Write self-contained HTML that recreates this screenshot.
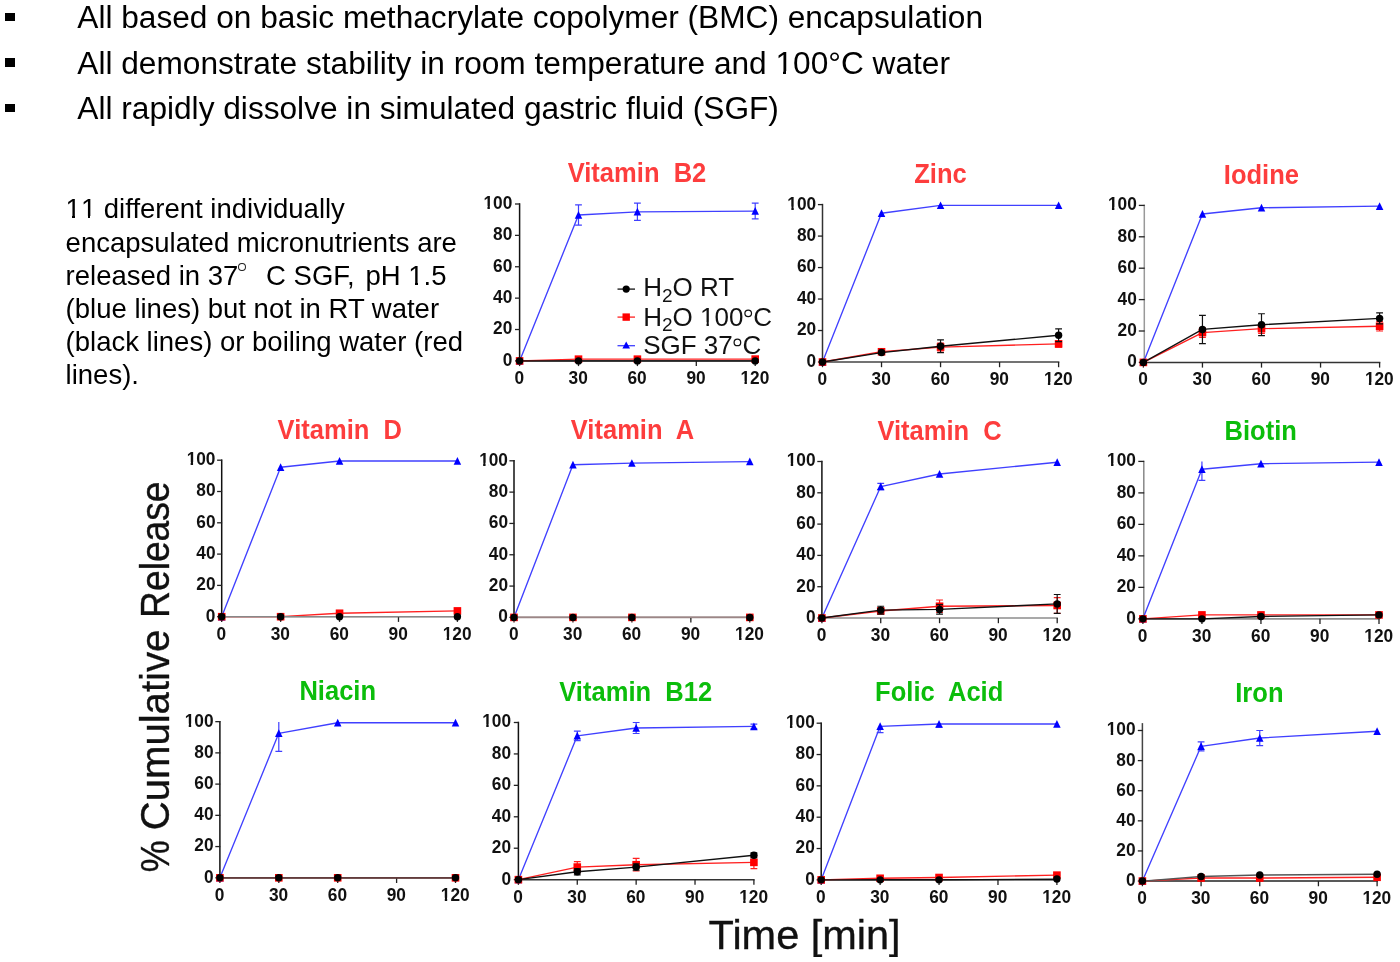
<!DOCTYPE html>
<html><head><meta charset="utf-8"><title>Micronutrient release</title>
<style>
html,body{margin:0;padding:0;background:#fff;}
body{width:1400px;height:962px;overflow:hidden;position:relative;font-family:"Liberation Sans",sans-serif;color:#000;}
.bl{position:absolute;left:77.3px;font-size:31.65px;line-height:36px;white-space:pre;}
.bu{position:absolute;left:5.4px;width:9.2px;height:8.8px;background:#000;}
.para{position:absolute;left:65.6px;top:192.45px;font-size:27.5px;line-height:33.1px;white-space:pre;}
.o1{position:relative;}
.o1::before,.o1::after{content:"";position:absolute;bottom:0.155em;height:0.135em;background:#fff;}
.o1::before{left:0.05em;width:0.2em;}
.o1::after{left:0.3415em;width:0.19em;}
.dg{display:inline-block;width:6.2px;height:6.5px;border:1.05px solid #222;border-radius:50%;vertical-align:13.4px;margin:0 20.3px 0 -0.8px;line-height:0;}
svg{position:absolute;left:0;top:0;filter:blur(0.45px);}
#txt{position:absolute;left:0;top:0;width:1400px;height:420px;filter:blur(0.3px);}
#wrap{position:absolute;left:0;top:0;width:1400px;height:962px;will-change:transform;}
.tk{font:bold 17.3px "Liberation Sans",sans-serif;fill:#111;}
.tt{font:bold 25.55px "Liberation Sans",sans-serif;}
.lg{font:26px "Liberation Sans",sans-serif;fill:#111;}
.sub{font-size:19px;}
.deg{font-size:13px;}
.ax{font:40px "Liberation Sans",sans-serif;fill:#111;stroke:#111;stroke-width:0.35px;}
</style></head><body><div id="wrap"><div id="txt">
<div class="bu" style="top:12.6px"></div><div class="bl" style="top:-1.1px">All based on basic methacrylate copolymer (BMC) encapsulation</div>
<div class="bu" style="top:58.1px"></div><div class="bl" style="top:44.5px">All demonstrate stability in room temperature and <span class="o1">1</span>00°C water</div>
<div class="bu" style="top:103.5px"></div><div class="bl" style="top:89.9px">All rapidly dissolve in simulated gastric fluid (SGF)</div>
<div class="para"><span class="o1">1</span><span class="o1">1</span> different individually
encapsulated micronutrients are
released in 37<span class="dg"></span>C SGF,<span style="margin-left:3.2px"></span> pH <span class="o1">1</span>.5
(blue lines) but not in RT water
(black lines) or boiling water (red
lines).</div>
</div>
<svg width="1400" height="962" viewBox="0 0 1400 962">
<path d="M519.60 203.25V360.90" fill="none" stroke="#111" stroke-width="1.5"/>
<path d="M518.85 360.90H755.95" fill="none" stroke="#333" stroke-width="1.5"/>
<path d="M515.00 360.90H520.00" stroke="#222" stroke-width="1.3"/>
<g transform="translate(512.30 365.80) scale(1 1.07)"><text text-anchor="end" class="tk">0</text></g>
<path d="M515.00 329.52H520.00" stroke="#222" stroke-width="1.3"/>
<g transform="translate(512.30 334.42) scale(1 1.07)"><text text-anchor="end" class="tk">20</text></g>
<path d="M515.00 298.14H520.00" stroke="#222" stroke-width="1.3"/>
<g transform="translate(512.30 303.04) scale(1 1.07)"><text text-anchor="end" class="tk">40</text></g>
<path d="M515.00 266.76H520.00" stroke="#222" stroke-width="1.3"/>
<g transform="translate(512.30 271.66) scale(1 1.07)"><text text-anchor="end" class="tk">60</text></g>
<path d="M515.00 235.38H520.00" stroke="#222" stroke-width="1.3"/>
<g transform="translate(512.30 240.28) scale(1 1.07)"><text text-anchor="end" class="tk">80</text></g>
<path d="M515.00 204.00H520.00" stroke="#222" stroke-width="1.3"/>
<g transform="translate(512.30 208.90) scale(1 1.07)"><text text-anchor="end" class="tk">100</text><rect x="-29.39" y="-2.80" width="4.54" height="3.84" fill="#fff"/><rect x="-22.44" y="-2.80" width="3.26" height="3.84" fill="#fff"/></g>
<path d="M519.60 360.90V366.10" stroke="#222" stroke-width="1.3"/>
<g transform="translate(519.30 383.80) scale(1 1.07)"><text text-anchor="middle" class="tk">0</text></g>
<path d="M578.50 360.90V366.10" stroke="#222" stroke-width="1.3"/>
<g transform="translate(578.20 383.80) scale(1 1.07)"><text text-anchor="middle" class="tk">30</text></g>
<path d="M637.40 360.90V366.10" stroke="#222" stroke-width="1.3"/>
<g transform="translate(637.10 383.80) scale(1 1.07)"><text text-anchor="middle" class="tk">60</text></g>
<path d="M696.30 360.90V366.10" stroke="#222" stroke-width="1.3"/>
<g transform="translate(696.00 383.80) scale(1 1.07)"><text text-anchor="middle" class="tk">90</text></g>
<path d="M755.20 360.90V366.10" stroke="#222" stroke-width="1.3"/>
<g transform="translate(754.90 383.80) scale(1 1.07)"><text text-anchor="middle" class="tk">120</text><rect x="-14.95" y="-2.80" width="4.54" height="3.84" fill="#fff"/><rect x="-8.01" y="-2.80" width="3.26" height="3.84" fill="#fff"/></g>
<text transform="translate(637.00 182.30) scale(1 1.075)" text-anchor="middle" class="tt" fill="#fd3d3d" xml:space="preserve">Vitamin  B2</text>
<polyline points="519.60,360.90 578.50,214.98 637.40,211.84 755.20,211.06" fill="none" stroke="#4040ff" stroke-width="1.35" stroke-linejoin="round"/>
<path d="M578.50 204.78V225.18M575.10 204.78H581.90M575.10 225.18H581.90" stroke="#4040ff" stroke-width="1.2" fill="none"/>
<path d="M637.40 203.22V220.47M634.00 203.22H640.80M634.00 220.47H640.80" stroke="#4040ff" stroke-width="1.2" fill="none"/>
<path d="M755.20 203.22V218.91M751.80 203.22H758.60M751.80 218.91H758.60" stroke="#4040ff" stroke-width="1.2" fill="none"/>
<path d="M519.60 356.90L523.35 364.60H515.85Z" fill="#0000ff"/>
<path d="M578.50 210.98L582.25 218.68H574.75Z" fill="#0000ff"/>
<path d="M637.40 207.84L641.15 215.54H633.65Z" fill="#0000ff"/>
<path d="M755.20 207.06L758.95 214.76H751.45Z" fill="#0000ff"/>
<polyline points="519.60,360.90 578.50,359.17 637.40,359.17 755.20,359.10" fill="none" stroke="#ff2020" stroke-width="1.35" stroke-linejoin="round"/>
<rect x="515.80" y="357.10" width="7.6" height="7.6" fill="#ff0000"/>
<rect x="574.70" y="355.37" width="7.6" height="7.6" fill="#ff0000"/>
<rect x="633.60" y="355.37" width="7.6" height="7.6" fill="#ff0000"/>
<rect x="751.40" y="355.30" width="7.6" height="7.6" fill="#ff0000"/>
<polyline points="519.60,360.90 578.50,360.90 637.40,360.90 755.20,360.90" fill="none" stroke="#111" stroke-width="1.35" stroke-linejoin="round"/>
<circle cx="519.60" cy="360.90" r="3.7" fill="#000"/>
<circle cx="578.50" cy="360.90" r="3.7" fill="#000"/>
<circle cx="637.40" cy="360.90" r="3.7" fill="#000"/>
<circle cx="755.20" cy="360.90" r="3.7" fill="#000"/>
<path d="M822.50 203.85V362.00" fill="none" stroke="#333" stroke-width="1.5"/>
<path d="M821.75 362.00H1059.35" fill="none" stroke="#444" stroke-width="1.5"/>
<path d="M817.90 362.00H822.90" stroke="#222" stroke-width="1.3"/>
<g transform="translate(816.20 366.90) scale(1 1.07)"><text text-anchor="end" class="tk">0</text></g>
<path d="M817.90 330.52H822.90" stroke="#222" stroke-width="1.3"/>
<g transform="translate(816.20 335.42) scale(1 1.07)"><text text-anchor="end" class="tk">20</text></g>
<path d="M817.90 299.04H822.90" stroke="#222" stroke-width="1.3"/>
<g transform="translate(816.20 303.94) scale(1 1.07)"><text text-anchor="end" class="tk">40</text></g>
<path d="M817.90 267.56H822.90" stroke="#222" stroke-width="1.3"/>
<g transform="translate(816.20 272.46) scale(1 1.07)"><text text-anchor="end" class="tk">60</text></g>
<path d="M817.90 236.08H822.90" stroke="#222" stroke-width="1.3"/>
<g transform="translate(816.20 240.98) scale(1 1.07)"><text text-anchor="end" class="tk">80</text></g>
<path d="M817.90 204.60H822.90" stroke="#222" stroke-width="1.3"/>
<g transform="translate(816.20 209.50) scale(1 1.07)"><text text-anchor="end" class="tk">100</text><rect x="-29.39" y="-2.80" width="4.54" height="3.84" fill="#fff"/><rect x="-22.44" y="-2.80" width="3.26" height="3.84" fill="#fff"/></g>
<path d="M822.50 362.00V367.20" stroke="#222" stroke-width="1.3"/>
<g transform="translate(822.20 384.90) scale(1 1.07)"><text text-anchor="middle" class="tk">0</text></g>
<path d="M881.52 362.00V367.20" stroke="#222" stroke-width="1.3"/>
<g transform="translate(881.23 384.90) scale(1 1.07)"><text text-anchor="middle" class="tk">30</text></g>
<path d="M940.55 362.00V367.20" stroke="#222" stroke-width="1.3"/>
<g transform="translate(940.25 384.90) scale(1 1.07)"><text text-anchor="middle" class="tk">60</text></g>
<path d="M999.57 362.00V367.20" stroke="#222" stroke-width="1.3"/>
<g transform="translate(999.27 384.90) scale(1 1.07)"><text text-anchor="middle" class="tk">90</text></g>
<path d="M1058.60 362.00V367.20" stroke="#222" stroke-width="1.3"/>
<g transform="translate(1058.30 384.90) scale(1 1.07)"><text text-anchor="middle" class="tk">120</text><rect x="-14.95" y="-2.80" width="4.54" height="3.84" fill="#fff"/><rect x="-8.01" y="-2.80" width="3.26" height="3.84" fill="#fff"/></g>
<text transform="translate(940.50 182.80) scale(1 1.075)" text-anchor="middle" class="tt" fill="#fd3d3d" xml:space="preserve">Zinc</text>
<polyline points="822.50,362.00 881.52,213.26 940.55,205.39 1058.60,205.39" fill="none" stroke="#4040ff" stroke-width="1.35" stroke-linejoin="round"/>
<path d="M822.50 358.00L826.25 365.70H818.75Z" fill="#0000ff"/>
<path d="M881.52 209.26L885.27 216.96H877.77Z" fill="#0000ff"/>
<path d="M940.55 201.39L944.30 209.09H936.80Z" fill="#0000ff"/>
<path d="M1058.60 201.39L1062.35 209.09H1054.85Z" fill="#0000ff"/>
<polyline points="822.50,362.00 881.52,351.77 940.55,347.05 1058.60,343.90" fill="none" stroke="#ff2020" stroke-width="1.35" stroke-linejoin="round"/>
<path d="M940.55 343.11V350.98M937.15 343.11H943.95M937.15 350.98H943.95" stroke="#ff2020" stroke-width="1.2" fill="none"/>
<path d="M1058.60 340.75V347.05M1055.20 340.75H1062.00M1055.20 347.05H1062.00" stroke="#ff2020" stroke-width="1.2" fill="none"/>
<rect x="818.70" y="358.20" width="7.6" height="7.6" fill="#ff0000"/>
<rect x="877.73" y="347.97" width="7.6" height="7.6" fill="#ff0000"/>
<rect x="936.75" y="343.25" width="7.6" height="7.6" fill="#ff0000"/>
<rect x="1054.80" y="340.10" width="7.6" height="7.6" fill="#ff0000"/>
<polyline points="822.50,362.00 881.52,352.56 940.55,346.26 1058.60,335.24" fill="none" stroke="#111" stroke-width="1.35" stroke-linejoin="round"/>
<path d="M940.55 339.96V352.56M937.15 339.96H943.95M937.15 352.56H943.95" stroke="#111" stroke-width="1.2" fill="none"/>
<path d="M1058.60 328.95V341.54M1055.20 328.95H1062.00M1055.20 341.54H1062.00" stroke="#111" stroke-width="1.2" fill="none"/>
<circle cx="822.50" cy="362.00" r="3.7" fill="#000"/>
<circle cx="881.52" cy="352.56" r="3.7" fill="#000"/>
<circle cx="940.55" cy="346.26" r="3.7" fill="#000"/>
<circle cx="1058.60" cy="335.24" r="3.7" fill="#000"/>
<path d="M1144.30 204.65V362.40" fill="none" stroke="#999" stroke-width="1.5"/>
<path d="M1142.65 362.40H1380.35" fill="none" stroke="#333" stroke-width="1.5"/>
<path d="M1138.80 362.40H1144.70" stroke="#222" stroke-width="1.3"/>
<g transform="translate(1136.80 367.30) scale(1 1.07)"><text text-anchor="end" class="tk">0</text></g>
<path d="M1138.80 331.00H1144.70" stroke="#222" stroke-width="1.3"/>
<g transform="translate(1136.80 335.90) scale(1 1.07)"><text text-anchor="end" class="tk">20</text></g>
<path d="M1138.80 299.60H1144.70" stroke="#222" stroke-width="1.3"/>
<g transform="translate(1136.80 304.50) scale(1 1.07)"><text text-anchor="end" class="tk">40</text></g>
<path d="M1138.80 268.20H1144.70" stroke="#222" stroke-width="1.3"/>
<g transform="translate(1136.80 273.10) scale(1 1.07)"><text text-anchor="end" class="tk">60</text></g>
<path d="M1138.80 236.80H1144.70" stroke="#222" stroke-width="1.3"/>
<g transform="translate(1136.80 241.70) scale(1 1.07)"><text text-anchor="end" class="tk">80</text></g>
<path d="M1138.80 205.40H1144.70" stroke="#222" stroke-width="1.3"/>
<g transform="translate(1136.80 210.30) scale(1 1.07)"><text text-anchor="end" class="tk">100</text><rect x="-29.39" y="-2.80" width="4.54" height="3.84" fill="#fff"/><rect x="-22.44" y="-2.80" width="3.26" height="3.84" fill="#fff"/></g>
<path d="M1143.40 362.40V367.60" stroke="#222" stroke-width="1.3"/>
<g transform="translate(1143.10 385.30) scale(1 1.07)"><text text-anchor="middle" class="tk">0</text></g>
<path d="M1202.45 362.40V367.60" stroke="#222" stroke-width="1.3"/>
<g transform="translate(1202.15 385.30) scale(1 1.07)"><text text-anchor="middle" class="tk">30</text></g>
<path d="M1261.50 362.40V367.60" stroke="#222" stroke-width="1.3"/>
<g transform="translate(1261.20 385.30) scale(1 1.07)"><text text-anchor="middle" class="tk">60</text></g>
<path d="M1320.55 362.40V367.60" stroke="#222" stroke-width="1.3"/>
<g transform="translate(1320.25 385.30) scale(1 1.07)"><text text-anchor="middle" class="tk">90</text></g>
<path d="M1379.60 362.40V367.60" stroke="#222" stroke-width="1.3"/>
<g transform="translate(1379.30 385.30) scale(1 1.07)"><text text-anchor="middle" class="tk">120</text><rect x="-14.95" y="-2.80" width="4.54" height="3.84" fill="#fff"/><rect x="-8.01" y="-2.80" width="3.26" height="3.84" fill="#fff"/></g>
<text transform="translate(1261.40 183.60) scale(1 1.075)" text-anchor="middle" class="tt" fill="#fd3d3d" xml:space="preserve">Iodine</text>
<polyline points="1143.40,362.40 1202.45,214.03 1261.50,207.76 1379.60,206.19" fill="none" stroke="#4040ff" stroke-width="1.35" stroke-linejoin="round"/>
<path d="M1143.40 358.40L1147.15 366.10H1139.65Z" fill="#0000ff"/>
<path d="M1202.45 210.03L1206.20 217.73H1198.70Z" fill="#0000ff"/>
<path d="M1261.50 203.76L1265.25 211.46H1257.75Z" fill="#0000ff"/>
<path d="M1379.60 202.19L1383.35 209.88H1375.85Z" fill="#0000ff"/>
<polyline points="1143.40,362.40 1202.45,332.57 1261.50,328.64 1379.60,326.29" fill="none" stroke="#ff2020" stroke-width="1.35" stroke-linejoin="round"/>
<path d="M1202.45 327.86V337.28M1199.05 327.86H1205.85M1199.05 337.28H1205.85" stroke="#ff2020" stroke-width="1.2" fill="none"/>
<path d="M1261.50 323.94V333.35M1258.10 323.94H1264.90M1258.10 333.35H1264.90" stroke="#ff2020" stroke-width="1.2" fill="none"/>
<path d="M1379.60 321.58V331.00M1376.20 321.58H1383.00M1376.20 331.00H1383.00" stroke="#ff2020" stroke-width="1.2" fill="none"/>
<rect x="1139.60" y="358.60" width="7.6" height="7.6" fill="#ff0000"/>
<rect x="1198.65" y="328.77" width="7.6" height="7.6" fill="#ff0000"/>
<rect x="1257.70" y="324.84" width="7.6" height="7.6" fill="#ff0000"/>
<rect x="1375.80" y="322.49" width="7.6" height="7.6" fill="#ff0000"/>
<polyline points="1143.40,362.40 1202.45,329.43 1261.50,324.72 1379.60,318.44" fill="none" stroke="#111" stroke-width="1.35" stroke-linejoin="round"/>
<path d="M1202.45 315.30V343.56M1199.05 315.30H1205.85M1199.05 343.56H1205.85" stroke="#111" stroke-width="1.2" fill="none"/>
<path d="M1261.50 313.73V335.71M1258.10 313.73H1264.90M1258.10 335.71H1264.90" stroke="#111" stroke-width="1.2" fill="none"/>
<path d="M1379.60 312.94V323.94M1376.20 312.94H1383.00M1376.20 323.94H1383.00" stroke="#111" stroke-width="1.2" fill="none"/>
<circle cx="1143.40" cy="362.40" r="3.7" fill="#000"/>
<circle cx="1202.45" cy="329.43" r="3.7" fill="#000"/>
<circle cx="1261.50" cy="324.72" r="3.7" fill="#000"/>
<circle cx="1379.60" cy="318.44" r="3.7" fill="#000"/>
<path d="M221.70 459.45V616.70" fill="none" stroke="#111" stroke-width="1.5"/>
<path d="M220.95 616.70H458.15" fill="none" stroke="#888" stroke-width="1.5"/>
<path d="M217.10 616.70H222.10" stroke="#222" stroke-width="1.3"/>
<g transform="translate(215.50 621.60) scale(1 1.07)"><text text-anchor="end" class="tk">0</text></g>
<path d="M217.10 585.40H222.10" stroke="#222" stroke-width="1.3"/>
<g transform="translate(215.50 590.30) scale(1 1.07)"><text text-anchor="end" class="tk">20</text></g>
<path d="M217.10 554.10H222.10" stroke="#222" stroke-width="1.3"/>
<g transform="translate(215.50 559.00) scale(1 1.07)"><text text-anchor="end" class="tk">40</text></g>
<path d="M217.10 522.80H222.10" stroke="#222" stroke-width="1.3"/>
<g transform="translate(215.50 527.70) scale(1 1.07)"><text text-anchor="end" class="tk">60</text></g>
<path d="M217.10 491.50H222.10" stroke="#222" stroke-width="1.3"/>
<g transform="translate(215.50 496.40) scale(1 1.07)"><text text-anchor="end" class="tk">80</text></g>
<path d="M217.10 460.20H222.10" stroke="#222" stroke-width="1.3"/>
<g transform="translate(215.50 465.10) scale(1 1.07)"><text text-anchor="end" class="tk">100</text><rect x="-29.39" y="-2.80" width="4.54" height="3.84" fill="#fff"/><rect x="-22.44" y="-2.80" width="3.26" height="3.84" fill="#fff"/></g>
<path d="M221.70 616.70V621.90" stroke="#222" stroke-width="1.3"/>
<g transform="translate(221.40 639.60) scale(1 1.07)"><text text-anchor="middle" class="tk">0</text></g>
<path d="M280.62 616.70V621.90" stroke="#222" stroke-width="1.3"/>
<g transform="translate(280.32 639.60) scale(1 1.07)"><text text-anchor="middle" class="tk">30</text></g>
<path d="M339.55 616.70V621.90" stroke="#222" stroke-width="1.3"/>
<g transform="translate(339.25 639.60) scale(1 1.07)"><text text-anchor="middle" class="tk">60</text></g>
<path d="M398.48 616.70V621.90" stroke="#222" stroke-width="1.3"/>
<g transform="translate(398.18 639.60) scale(1 1.07)"><text text-anchor="middle" class="tk">90</text></g>
<path d="M457.40 616.70V621.90" stroke="#222" stroke-width="1.3"/>
<g transform="translate(457.10 639.60) scale(1 1.07)"><text text-anchor="middle" class="tk">120</text><rect x="-14.95" y="-2.80" width="4.54" height="3.84" fill="#fff"/><rect x="-8.01" y="-2.80" width="3.26" height="3.84" fill="#fff"/></g>
<text transform="translate(339.80 439.00) scale(1 1.075)" text-anchor="middle" class="tt" fill="#fd3d3d" xml:space="preserve">Vitamin  D</text>
<polyline points="221.70,616.70 280.62,467.24 339.55,460.98 457.40,460.98" fill="none" stroke="#4040ff" stroke-width="1.35" stroke-linejoin="round"/>
<path d="M221.70 612.70L225.45 620.40H217.95Z" fill="#0000ff"/>
<path d="M280.62 463.24L284.38 470.94H276.88Z" fill="#0000ff"/>
<path d="M339.55 456.98L343.30 464.68H335.80Z" fill="#0000ff"/>
<path d="M457.40 456.98L461.15 464.68H453.65Z" fill="#0000ff"/>
<polyline points="221.70,616.70 280.62,616.70 339.55,613.26 457.40,610.91" fill="none" stroke="#ff2020" stroke-width="1.3" stroke-linejoin="round"/>
<rect x="217.90" y="612.90" width="7.6" height="7.6" fill="#ff0000"/>
<rect x="276.82" y="612.90" width="7.6" height="7.6" fill="#ff0000"/>
<rect x="335.75" y="609.46" width="7.6" height="7.6" fill="#ff0000"/>
<rect x="453.60" y="607.11" width="7.6" height="7.6" fill="#ff0000"/>
<polyline points="221.70,616.70 280.62,616.70 339.55,616.70 457.40,616.70" fill="none" stroke="#888" stroke-width="1.3" stroke-linejoin="round"/>
<circle cx="221.70" cy="616.70" r="3.7" fill="#000"/>
<circle cx="280.62" cy="616.70" r="3.7" fill="#000"/>
<circle cx="339.55" cy="616.70" r="3.7" fill="#000"/>
<circle cx="457.40" cy="616.70" r="3.7" fill="#000"/>
<path d="M514.00 460.05V617.40" fill="none" stroke="#111" stroke-width="1.5"/>
<path d="M513.25 617.40H750.55" fill="none" stroke="#9c8686" stroke-width="1.6"/>
<path d="M509.40 617.40H514.40" stroke="#222" stroke-width="1.3"/>
<g transform="translate(508.00 622.30) scale(1 1.07)"><text text-anchor="end" class="tk">0</text></g>
<path d="M509.40 586.08H514.40" stroke="#222" stroke-width="1.3"/>
<g transform="translate(508.00 590.98) scale(1 1.07)"><text text-anchor="end" class="tk">20</text></g>
<path d="M509.40 554.76H514.40" stroke="#222" stroke-width="1.3"/>
<g transform="translate(508.00 559.66) scale(1 1.07)"><text text-anchor="end" class="tk">40</text></g>
<path d="M509.40 523.44H514.40" stroke="#222" stroke-width="1.3"/>
<g transform="translate(508.00 528.34) scale(1 1.07)"><text text-anchor="end" class="tk">60</text></g>
<path d="M509.40 492.12H514.40" stroke="#222" stroke-width="1.3"/>
<g transform="translate(508.00 497.02) scale(1 1.07)"><text text-anchor="end" class="tk">80</text></g>
<path d="M509.40 460.80H514.40" stroke="#222" stroke-width="1.3"/>
<g transform="translate(508.00 465.70) scale(1 1.07)"><text text-anchor="end" class="tk">100</text><rect x="-29.39" y="-2.80" width="4.54" height="3.84" fill="#fff"/><rect x="-22.44" y="-2.80" width="3.26" height="3.84" fill="#fff"/></g>
<path d="M514.00 617.40V622.60" stroke="#222" stroke-width="1.3"/>
<g transform="translate(513.70 640.30) scale(1 1.07)"><text text-anchor="middle" class="tk">0</text></g>
<path d="M572.95 617.40V622.60" stroke="#222" stroke-width="1.3"/>
<g transform="translate(572.65 640.30) scale(1 1.07)"><text text-anchor="middle" class="tk">30</text></g>
<path d="M631.90 617.40V622.60" stroke="#222" stroke-width="1.3"/>
<g transform="translate(631.60 640.30) scale(1 1.07)"><text text-anchor="middle" class="tk">60</text></g>
<path d="M690.85 617.40V622.60" stroke="#222" stroke-width="1.3"/>
<g transform="translate(690.55 640.30) scale(1 1.07)"><text text-anchor="middle" class="tk">90</text></g>
<path d="M749.80 617.40V622.60" stroke="#222" stroke-width="1.3"/>
<g transform="translate(749.50 640.30) scale(1 1.07)"><text text-anchor="middle" class="tk">120</text><rect x="-14.95" y="-2.80" width="4.54" height="3.84" fill="#fff"/><rect x="-8.01" y="-2.80" width="3.26" height="3.84" fill="#fff"/></g>
<text transform="translate(632.50 439.30) scale(1 1.075)" text-anchor="middle" class="tt" fill="#fd3d3d" xml:space="preserve">Vitamin  A</text>
<polyline points="514.00,617.40 572.95,464.72 631.90,463.15 749.80,461.58" fill="none" stroke="#4040ff" stroke-width="1.35" stroke-linejoin="round"/>
<path d="M514.00 613.40L517.75 621.10H510.25Z" fill="#0000ff"/>
<path d="M572.95 460.72L576.70 468.42H569.20Z" fill="#0000ff"/>
<path d="M631.90 459.15L635.65 466.85H628.15Z" fill="#0000ff"/>
<path d="M749.80 457.58L753.55 465.28H746.05Z" fill="#0000ff"/>
<polyline points="514.00,617.40 572.95,617.40 631.90,617.40 749.80,617.40" fill="none" stroke="#9c8686" stroke-width="1.4" stroke-linejoin="round"/>
<rect x="510.20" y="613.60" width="7.6" height="7.6" fill="#ff0000"/>
<rect x="569.15" y="613.60" width="7.6" height="7.6" fill="#ff0000"/>
<rect x="628.10" y="613.60" width="7.6" height="7.6" fill="#ff0000"/>
<rect x="746.00" y="613.60" width="7.6" height="7.6" fill="#ff0000"/>
<polyline points="514.00,617.40 572.95,617.40 631.90,617.40 749.80,617.40" fill="none" stroke="#9c8686" stroke-width="1.4" stroke-linejoin="round"/>
<circle cx="514.00" cy="617.40" r="3.7" fill="#000"/>
<circle cx="572.95" cy="617.40" r="3.7" fill="#000"/>
<circle cx="631.90" cy="617.40" r="3.7" fill="#000"/>
<circle cx="749.80" cy="617.40" r="3.7" fill="#000"/>
<path d="M821.90 460.75V618.00" fill="none" stroke="#111" stroke-width="1.5"/>
<path d="M821.15 618.00H1057.95" fill="none" stroke="#8c8c8c" stroke-width="1.6"/>
<path d="M817.30 618.00H822.30" stroke="#222" stroke-width="1.3"/>
<g transform="translate(815.60 622.90) scale(1 1.07)"><text text-anchor="end" class="tk">0</text></g>
<path d="M817.30 586.70H822.30" stroke="#222" stroke-width="1.3"/>
<g transform="translate(815.60 591.60) scale(1 1.07)"><text text-anchor="end" class="tk">20</text></g>
<path d="M817.30 555.40H822.30" stroke="#222" stroke-width="1.3"/>
<g transform="translate(815.60 560.30) scale(1 1.07)"><text text-anchor="end" class="tk">40</text></g>
<path d="M817.30 524.10H822.30" stroke="#222" stroke-width="1.3"/>
<g transform="translate(815.60 529.00) scale(1 1.07)"><text text-anchor="end" class="tk">60</text></g>
<path d="M817.30 492.80H822.30" stroke="#222" stroke-width="1.3"/>
<g transform="translate(815.60 497.70) scale(1 1.07)"><text text-anchor="end" class="tk">80</text></g>
<path d="M817.30 461.50H822.30" stroke="#222" stroke-width="1.3"/>
<g transform="translate(815.60 466.40) scale(1 1.07)"><text text-anchor="end" class="tk">100</text><rect x="-29.39" y="-2.80" width="4.54" height="3.84" fill="#fff"/><rect x="-22.44" y="-2.80" width="3.26" height="3.84" fill="#fff"/></g>
<path d="M821.90 618.00V623.20" stroke="#222" stroke-width="1.3"/>
<g transform="translate(821.60 640.90) scale(1 1.07)"><text text-anchor="middle" class="tk">0</text></g>
<path d="M880.73 618.00V623.20" stroke="#222" stroke-width="1.3"/>
<g transform="translate(880.43 640.90) scale(1 1.07)"><text text-anchor="middle" class="tk">30</text></g>
<path d="M939.55 618.00V623.20" stroke="#222" stroke-width="1.3"/>
<g transform="translate(939.25 640.90) scale(1 1.07)"><text text-anchor="middle" class="tk">60</text></g>
<path d="M998.38 618.00V623.20" stroke="#222" stroke-width="1.3"/>
<g transform="translate(998.08 640.90) scale(1 1.07)"><text text-anchor="middle" class="tk">90</text></g>
<path d="M1057.20 618.00V623.20" stroke="#222" stroke-width="1.3"/>
<g transform="translate(1056.90 640.90) scale(1 1.07)"><text text-anchor="middle" class="tk">120</text><rect x="-14.95" y="-2.80" width="4.54" height="3.84" fill="#fff"/><rect x="-8.01" y="-2.80" width="3.26" height="3.84" fill="#fff"/></g>
<text transform="translate(939.60 440.10) scale(1 1.075)" text-anchor="middle" class="tt" fill="#fd3d3d" xml:space="preserve">Vitamin  C</text>
<polyline points="821.90,618.00 880.73,486.54 939.55,474.02 1057.20,462.28" fill="none" stroke="#4040ff" stroke-width="1.35" stroke-linejoin="round"/>
<path d="M880.73 483.41V489.67M877.33 483.41H884.12M877.33 489.67H884.12" stroke="#4040ff" stroke-width="1.2" fill="none"/>
<path d="M821.90 614.00L825.65 621.70H818.15Z" fill="#0000ff"/>
<path d="M880.73 482.54L884.48 490.24H876.98Z" fill="#0000ff"/>
<path d="M939.55 470.02L943.30 477.72H935.80Z" fill="#0000ff"/>
<path d="M1057.20 458.28L1060.95 465.98H1053.45Z" fill="#0000ff"/>
<polyline points="821.90,618.00 880.73,610.96 939.55,606.26 1057.20,605.48" fill="none" stroke="#ff2020" stroke-width="1.35" stroke-linejoin="round"/>
<path d="M939.55 600.00V612.52M936.15 600.00H942.95M936.15 612.52H942.95" stroke="#ff2020" stroke-width="1.2" fill="none"/>
<path d="M1057.20 597.65V613.30M1053.80 597.65H1060.60M1053.80 613.30H1060.60" stroke="#ff2020" stroke-width="1.2" fill="none"/>
<rect x="818.10" y="614.20" width="7.6" height="7.6" fill="#ff0000"/>
<rect x="876.93" y="607.16" width="7.6" height="7.6" fill="#ff0000"/>
<rect x="935.75" y="602.46" width="7.6" height="7.6" fill="#ff0000"/>
<rect x="1053.40" y="601.68" width="7.6" height="7.6" fill="#ff0000"/>
<polyline points="821.90,618.00 880.73,610.17 939.55,609.39 1057.20,603.91" fill="none" stroke="#111" stroke-width="1.35" stroke-linejoin="round"/>
<path d="M880.73 606.26V614.09M877.33 606.26H884.12M877.33 614.09H884.12" stroke="#111" stroke-width="1.2" fill="none"/>
<path d="M939.55 604.70V614.09M936.15 604.70H942.95M936.15 614.09H942.95" stroke="#111" stroke-width="1.2" fill="none"/>
<path d="M1057.20 594.52V613.30M1053.80 594.52H1060.60M1053.80 613.30H1060.60" stroke="#111" stroke-width="1.2" fill="none"/>
<circle cx="821.90" cy="618.00" r="3.7" fill="#000"/>
<circle cx="880.73" cy="610.17" r="3.7" fill="#000"/>
<circle cx="939.55" cy="609.39" r="3.7" fill="#000"/>
<circle cx="1057.20" cy="603.91" r="3.7" fill="#000"/>
<path d="M1143.80 460.65V618.85" fill="none" stroke="#888" stroke-width="1.5"/>
<path d="M1142.15 618.85H1379.75" fill="none" stroke="#909090" stroke-width="1.6"/>
<path d="M1138.30 618.85H1144.20" stroke="#222" stroke-width="1.3"/>
<g transform="translate(1135.90 623.75) scale(1 1.07)"><text text-anchor="end" class="tk">0</text></g>
<path d="M1138.30 587.36H1144.20" stroke="#222" stroke-width="1.3"/>
<g transform="translate(1135.90 592.26) scale(1 1.07)"><text text-anchor="end" class="tk">20</text></g>
<path d="M1138.30 555.87H1144.20" stroke="#222" stroke-width="1.3"/>
<g transform="translate(1135.90 560.77) scale(1 1.07)"><text text-anchor="end" class="tk">40</text></g>
<path d="M1138.30 524.38H1144.20" stroke="#222" stroke-width="1.3"/>
<g transform="translate(1135.90 529.28) scale(1 1.07)"><text text-anchor="end" class="tk">60</text></g>
<path d="M1138.30 492.89H1144.20" stroke="#222" stroke-width="1.3"/>
<g transform="translate(1135.90 497.79) scale(1 1.07)"><text text-anchor="end" class="tk">80</text></g>
<path d="M1138.30 461.40H1144.20" stroke="#222" stroke-width="1.3"/>
<g transform="translate(1135.90 466.30) scale(1 1.07)"><text text-anchor="end" class="tk">100</text><rect x="-29.39" y="-2.80" width="4.54" height="3.84" fill="#fff"/><rect x="-22.44" y="-2.80" width="3.26" height="3.84" fill="#fff"/></g>
<path d="M1142.90 618.85V624.05" stroke="#222" stroke-width="1.3"/>
<g transform="translate(1142.60 641.75) scale(1 1.07)"><text text-anchor="middle" class="tk">0</text></g>
<path d="M1201.93 618.85V624.05" stroke="#222" stroke-width="1.3"/>
<g transform="translate(1201.63 641.75) scale(1 1.07)"><text text-anchor="middle" class="tk">30</text></g>
<path d="M1260.95 618.85V624.05" stroke="#222" stroke-width="1.3"/>
<g transform="translate(1260.65 641.75) scale(1 1.07)"><text text-anchor="middle" class="tk">60</text></g>
<path d="M1319.97 618.85V624.05" stroke="#222" stroke-width="1.3"/>
<g transform="translate(1319.67 641.75) scale(1 1.07)"><text text-anchor="middle" class="tk">90</text></g>
<path d="M1379.00 618.85V624.05" stroke="#222" stroke-width="1.3"/>
<g transform="translate(1378.70 641.75) scale(1 1.07)"><text text-anchor="middle" class="tk">120</text><rect x="-14.95" y="-2.80" width="4.54" height="3.84" fill="#fff"/><rect x="-8.01" y="-2.80" width="3.26" height="3.84" fill="#fff"/></g>
<text transform="translate(1260.70 440.10) scale(1 1.075)" text-anchor="middle" class="tt" fill="#0bbd0b" xml:space="preserve">Biotin</text>
<polyline points="1142.90,618.85 1201.93,469.27 1260.95,463.76 1379.00,462.19" fill="none" stroke="#4040ff" stroke-width="1.35" stroke-linejoin="round"/>
<path d="M1201.93 461.40V480.29M1198.53 480.29H1205.33" stroke="#4040ff" stroke-width="1.2" fill="none"/>
<path d="M1142.90 614.85L1146.65 622.55H1139.15Z" fill="#0000ff"/>
<path d="M1201.93 465.27L1205.68 472.97H1198.18Z" fill="#0000ff"/>
<path d="M1260.95 459.76L1264.70 467.46H1257.20Z" fill="#0000ff"/>
<path d="M1379.00 458.19L1382.75 465.89H1375.25Z" fill="#0000ff"/>
<polyline points="1142.90,618.85 1201.93,614.91 1260.95,614.91 1379.00,614.91" fill="none" stroke="#ff2020" stroke-width="1.35" stroke-linejoin="round"/>
<rect x="1139.10" y="615.05" width="7.6" height="7.6" fill="#ff0000"/>
<rect x="1198.13" y="611.11" width="7.6" height="7.6" fill="#ff0000"/>
<rect x="1257.15" y="611.11" width="7.6" height="7.6" fill="#ff0000"/>
<rect x="1375.20" y="611.11" width="7.6" height="7.6" fill="#ff0000"/>
<polyline points="1142.90,618.85 1201.93,618.85 1260.95,616.49 1379.00,614.91" fill="none" stroke="#111" stroke-width="1.35" stroke-linejoin="round"/>
<circle cx="1142.90" cy="618.85" r="3.7" fill="#000"/>
<circle cx="1201.93" cy="618.85" r="3.7" fill="#000"/>
<circle cx="1260.95" cy="616.49" r="3.7" fill="#000"/>
<circle cx="1379.00" cy="614.91" r="3.7" fill="#000"/>
<path d="M219.90 720.90V877.80" fill="none" stroke="#111" stroke-width="1.5"/>
<path d="M219.15 877.80H456.25" fill="none" stroke="#603a3a" stroke-width="1.15"/>
<path d="M215.30 877.80H220.30" stroke="#222" stroke-width="1.3"/>
<g transform="translate(213.60 882.70) scale(1 1.07)"><text text-anchor="end" class="tk">0</text></g>
<path d="M215.30 846.57H220.30" stroke="#222" stroke-width="1.3"/>
<g transform="translate(213.60 851.47) scale(1 1.07)"><text text-anchor="end" class="tk">20</text></g>
<path d="M215.30 815.34H220.30" stroke="#222" stroke-width="1.3"/>
<g transform="translate(213.60 820.24) scale(1 1.07)"><text text-anchor="end" class="tk">40</text></g>
<path d="M215.30 784.11H220.30" stroke="#222" stroke-width="1.3"/>
<g transform="translate(213.60 789.01) scale(1 1.07)"><text text-anchor="end" class="tk">60</text></g>
<path d="M215.30 752.88H220.30" stroke="#222" stroke-width="1.3"/>
<g transform="translate(213.60 757.78) scale(1 1.07)"><text text-anchor="end" class="tk">80</text></g>
<path d="M215.30 721.65H220.30" stroke="#222" stroke-width="1.3"/>
<g transform="translate(213.60 726.55) scale(1 1.07)"><text text-anchor="end" class="tk">100</text><rect x="-29.39" y="-2.80" width="4.54" height="3.84" fill="#fff"/><rect x="-22.44" y="-2.80" width="3.26" height="3.84" fill="#fff"/></g>
<path d="M219.90 877.80V883.00" stroke="#222" stroke-width="1.3"/>
<g transform="translate(219.60 900.70) scale(1 1.07)"><text text-anchor="middle" class="tk">0</text></g>
<path d="M278.80 877.80V883.00" stroke="#222" stroke-width="1.3"/>
<g transform="translate(278.50 900.70) scale(1 1.07)"><text text-anchor="middle" class="tk">30</text></g>
<path d="M337.70 877.80V883.00" stroke="#222" stroke-width="1.3"/>
<g transform="translate(337.40 900.70) scale(1 1.07)"><text text-anchor="middle" class="tk">60</text></g>
<path d="M396.60 877.80V883.00" stroke="#222" stroke-width="1.3"/>
<g transform="translate(396.30 900.70) scale(1 1.07)"><text text-anchor="middle" class="tk">90</text></g>
<path d="M455.50 877.80V883.00" stroke="#222" stroke-width="1.3"/>
<g transform="translate(455.20 900.70) scale(1 1.07)"><text text-anchor="middle" class="tk">120</text><rect x="-14.95" y="-2.80" width="4.54" height="3.84" fill="#fff"/><rect x="-8.01" y="-2.80" width="3.26" height="3.84" fill="#fff"/></g>
<text transform="translate(337.70 699.80) scale(1 1.075)" text-anchor="middle" class="tt" fill="#0bbd0b" xml:space="preserve">Niacin</text>
<polyline points="219.90,877.80 278.80,733.36 337.70,722.74 455.50,722.74" fill="none" stroke="#4040ff" stroke-width="1.35" stroke-linejoin="round"/>
<path d="M278.80 721.96V751.47M275.40 751.47H282.20" stroke="#4040ff" stroke-width="1.2" fill="none"/>
<path d="M219.90 873.80L223.65 881.50H216.15Z" fill="#0000ff"/>
<path d="M278.80 729.36L282.55 737.06H275.05Z" fill="#0000ff"/>
<path d="M337.70 718.74L341.45 726.44H333.95Z" fill="#0000ff"/>
<path d="M455.50 718.74L459.25 726.44H451.75Z" fill="#0000ff"/>
<polyline points="219.90,877.80 278.80,877.80 337.70,877.80 455.50,877.80" fill="none" stroke="#603a3a" stroke-width="1.15" stroke-linejoin="round"/>
<rect x="216.10" y="874.00" width="7.6" height="7.6" fill="#ff0000"/>
<rect x="275.00" y="874.00" width="7.6" height="7.6" fill="#ff0000"/>
<rect x="333.90" y="874.00" width="7.6" height="7.6" fill="#ff0000"/>
<rect x="451.70" y="874.00" width="7.6" height="7.6" fill="#ff0000"/>
<polyline points="219.90,877.80 278.80,877.80 337.70,877.80 455.50,877.80" fill="none" stroke="#603a3a" stroke-width="1.15" stroke-linejoin="round"/>
<circle cx="219.90" cy="877.80" r="3.7" fill="#000"/>
<circle cx="278.80" cy="877.80" r="3.7" fill="#000"/>
<circle cx="337.70" cy="877.80" r="3.7" fill="#000"/>
<circle cx="455.50" cy="877.80" r="3.7" fill="#000"/>
<path d="M518.40 721.75V879.65" fill="none" stroke="#111" stroke-width="1.5"/>
<path d="M517.65 879.65H754.65" fill="none" stroke="#333" stroke-width="1.5"/>
<path d="M513.80 879.65H518.80" stroke="#222" stroke-width="1.3"/>
<g transform="translate(511.10 884.55) scale(1 1.07)"><text text-anchor="end" class="tk">0</text></g>
<path d="M513.80 848.22H518.80" stroke="#222" stroke-width="1.3"/>
<g transform="translate(511.10 853.12) scale(1 1.07)"><text text-anchor="end" class="tk">20</text></g>
<path d="M513.80 816.79H518.80" stroke="#222" stroke-width="1.3"/>
<g transform="translate(511.10 821.69) scale(1 1.07)"><text text-anchor="end" class="tk">40</text></g>
<path d="M513.80 785.36H518.80" stroke="#222" stroke-width="1.3"/>
<g transform="translate(511.10 790.26) scale(1 1.07)"><text text-anchor="end" class="tk">60</text></g>
<path d="M513.80 753.93H518.80" stroke="#222" stroke-width="1.3"/>
<g transform="translate(511.10 758.83) scale(1 1.07)"><text text-anchor="end" class="tk">80</text></g>
<path d="M513.80 722.50H518.80" stroke="#222" stroke-width="1.3"/>
<g transform="translate(511.10 727.40) scale(1 1.07)"><text text-anchor="end" class="tk">100</text><rect x="-29.39" y="-2.80" width="4.54" height="3.84" fill="#fff"/><rect x="-22.44" y="-2.80" width="3.26" height="3.84" fill="#fff"/></g>
<path d="M518.40 879.65V884.85" stroke="#222" stroke-width="1.3"/>
<g transform="translate(518.10 902.55) scale(1 1.07)"><text text-anchor="middle" class="tk">0</text></g>
<path d="M577.27 879.65V884.85" stroke="#222" stroke-width="1.3"/>
<g transform="translate(576.98 902.55) scale(1 1.07)"><text text-anchor="middle" class="tk">30</text></g>
<path d="M636.15 879.65V884.85" stroke="#222" stroke-width="1.3"/>
<g transform="translate(635.85 902.55) scale(1 1.07)"><text text-anchor="middle" class="tk">60</text></g>
<path d="M695.02 879.65V884.85" stroke="#222" stroke-width="1.3"/>
<g transform="translate(694.73 902.55) scale(1 1.07)"><text text-anchor="middle" class="tk">90</text></g>
<path d="M753.90 879.65V884.85" stroke="#222" stroke-width="1.3"/>
<g transform="translate(753.60 902.55) scale(1 1.07)"><text text-anchor="middle" class="tk">120</text><rect x="-14.95" y="-2.80" width="4.54" height="3.84" fill="#fff"/><rect x="-8.01" y="-2.80" width="3.26" height="3.84" fill="#fff"/></g>
<text transform="translate(635.70 700.60) scale(1 1.075)" text-anchor="middle" class="tt" fill="#0bbd0b" xml:space="preserve">Vitamin  B12</text>
<polyline points="518.40,879.65 577.27,735.86 636.15,728.00 753.90,726.43" fill="none" stroke="#4040ff" stroke-width="1.35" stroke-linejoin="round"/>
<path d="M577.27 731.14V740.57M573.88 731.14H580.67M573.88 740.57H580.67" stroke="#4040ff" stroke-width="1.2" fill="none"/>
<path d="M636.15 722.50V733.50M632.75 722.50H639.55M632.75 733.50H639.55" stroke="#4040ff" stroke-width="1.2" fill="none"/>
<path d="M753.90 724.07V728.79M750.50 724.07H757.30M750.50 728.79H757.30" stroke="#4040ff" stroke-width="1.2" fill="none"/>
<path d="M518.40 875.65L522.15 883.35H514.65Z" fill="#0000ff"/>
<path d="M577.27 731.86L581.02 739.56H573.52Z" fill="#0000ff"/>
<path d="M636.15 724.00L639.90 731.70H632.40Z" fill="#0000ff"/>
<path d="M753.90 722.43L757.65 730.13H750.15Z" fill="#0000ff"/>
<polyline points="518.40,879.65 577.27,867.08 636.15,864.72 753.90,862.36" fill="none" stroke="#ff2020" stroke-width="1.35" stroke-linejoin="round"/>
<path d="M577.27 861.58V872.58M573.88 861.58H580.67M573.88 872.58H580.67" stroke="#ff2020" stroke-width="1.2" fill="none"/>
<path d="M636.15 858.43V871.01M632.75 858.43H639.55M632.75 871.01H639.55" stroke="#ff2020" stroke-width="1.2" fill="none"/>
<path d="M753.90 856.08V868.65M750.50 856.08H757.30M750.50 868.65H757.30" stroke="#ff2020" stroke-width="1.2" fill="none"/>
<rect x="514.60" y="875.85" width="7.6" height="7.6" fill="#ff0000"/>
<rect x="573.48" y="863.28" width="7.6" height="7.6" fill="#ff0000"/>
<rect x="632.35" y="860.92" width="7.6" height="7.6" fill="#ff0000"/>
<rect x="750.10" y="858.56" width="7.6" height="7.6" fill="#ff0000"/>
<polyline points="518.40,879.65 577.27,871.79 636.15,867.08 753.90,855.29" fill="none" stroke="#111" stroke-width="1.35" stroke-linejoin="round"/>
<path d="M577.27 868.65V874.94M573.88 868.65H580.67M573.88 874.94H580.67" stroke="#111" stroke-width="1.2" fill="none"/>
<path d="M636.15 863.93V870.22M632.75 863.93H639.55M632.75 870.22H639.55" stroke="#111" stroke-width="1.2" fill="none"/>
<path d="M753.90 852.93V857.65M750.50 852.93H757.30M750.50 857.65H757.30" stroke="#111" stroke-width="1.2" fill="none"/>
<circle cx="518.40" cy="879.65" r="3.7" fill="#000"/>
<circle cx="577.27" cy="871.79" r="3.7" fill="#000"/>
<circle cx="636.15" cy="867.08" r="3.7" fill="#000"/>
<circle cx="753.90" cy="855.29" r="3.7" fill="#000"/>
<path d="M821.20 722.45V879.85" fill="none" stroke="#111" stroke-width="1.5"/>
<path d="M820.45 879.85H1057.65" fill="none" stroke="#111" stroke-width="1.5"/>
<path d="M816.60 879.85H821.60" stroke="#222" stroke-width="1.3"/>
<g transform="translate(814.80 884.75) scale(1 1.07)"><text text-anchor="end" class="tk">0</text></g>
<path d="M816.60 848.52H821.60" stroke="#222" stroke-width="1.3"/>
<g transform="translate(814.80 853.42) scale(1 1.07)"><text text-anchor="end" class="tk">20</text></g>
<path d="M816.60 817.19H821.60" stroke="#222" stroke-width="1.3"/>
<g transform="translate(814.80 822.09) scale(1 1.07)"><text text-anchor="end" class="tk">40</text></g>
<path d="M816.60 785.86H821.60" stroke="#222" stroke-width="1.3"/>
<g transform="translate(814.80 790.76) scale(1 1.07)"><text text-anchor="end" class="tk">60</text></g>
<path d="M816.60 754.53H821.60" stroke="#222" stroke-width="1.3"/>
<g transform="translate(814.80 759.43) scale(1 1.07)"><text text-anchor="end" class="tk">80</text></g>
<path d="M816.60 723.20H821.60" stroke="#222" stroke-width="1.3"/>
<g transform="translate(814.80 728.10) scale(1 1.07)"><text text-anchor="end" class="tk">100</text><rect x="-29.39" y="-2.80" width="4.54" height="3.84" fill="#fff"/><rect x="-22.44" y="-2.80" width="3.26" height="3.84" fill="#fff"/></g>
<path d="M821.20 879.85V885.05" stroke="#222" stroke-width="1.3"/>
<g transform="translate(820.90 902.75) scale(1 1.07)"><text text-anchor="middle" class="tk">0</text></g>
<path d="M880.13 879.85V885.05" stroke="#222" stroke-width="1.3"/>
<g transform="translate(879.83 902.75) scale(1 1.07)"><text text-anchor="middle" class="tk">30</text></g>
<path d="M939.05 879.85V885.05" stroke="#222" stroke-width="1.3"/>
<g transform="translate(938.75 902.75) scale(1 1.07)"><text text-anchor="middle" class="tk">60</text></g>
<path d="M997.98 879.85V885.05" stroke="#222" stroke-width="1.3"/>
<g transform="translate(997.68 902.75) scale(1 1.07)"><text text-anchor="middle" class="tk">90</text></g>
<path d="M1056.90 879.85V885.05" stroke="#222" stroke-width="1.3"/>
<g transform="translate(1056.60 902.75) scale(1 1.07)"><text text-anchor="middle" class="tk">120</text><rect x="-14.95" y="-2.80" width="4.54" height="3.84" fill="#fff"/><rect x="-8.01" y="-2.80" width="3.26" height="3.84" fill="#fff"/></g>
<text transform="translate(939.20 701.40) scale(1 1.075)" text-anchor="middle" class="tt" fill="#0bbd0b" xml:space="preserve">Folic  Acid</text>
<polyline points="821.20,879.85 880.13,726.33 939.05,723.98 1056.90,723.98" fill="none" stroke="#4040ff" stroke-width="1.35" stroke-linejoin="round"/>
<path d="M880.13 726.33V732.60M876.73 732.60H883.53" stroke="#4040ff" stroke-width="1.2" fill="none"/>
<path d="M939.05 723.98V727.12M935.65 727.12H942.45" stroke="#4040ff" stroke-width="1.2" fill="none"/>
<path d="M821.20 875.85L824.95 883.55H817.45Z" fill="#0000ff"/>
<path d="M880.13 722.33L883.88 730.03H876.38Z" fill="#0000ff"/>
<path d="M939.05 719.98L942.80 727.68H935.30Z" fill="#0000ff"/>
<path d="M1056.90 719.98L1060.65 727.68H1053.15Z" fill="#0000ff"/>
<polyline points="821.20,879.85 880.13,878.28 939.05,877.50 1056.90,875.15" fill="none" stroke="#ff2020" stroke-width="1.35" stroke-linejoin="round"/>
<rect x="817.40" y="876.05" width="7.6" height="7.6" fill="#ff0000"/>
<rect x="876.33" y="874.48" width="7.6" height="7.6" fill="#ff0000"/>
<rect x="935.25" y="873.70" width="7.6" height="7.6" fill="#ff0000"/>
<rect x="1053.10" y="871.35" width="7.6" height="7.6" fill="#ff0000"/>
<polyline points="821.20,879.85 880.13,879.85 939.05,879.85 1056.90,879.07" fill="none" stroke="#111" stroke-width="1.35" stroke-linejoin="round"/>
<circle cx="821.20" cy="879.85" r="3.7" fill="#000"/>
<circle cx="880.13" cy="879.85" r="3.7" fill="#000"/>
<circle cx="939.05" cy="879.85" r="3.7" fill="#000"/>
<circle cx="1056.90" cy="879.07" r="3.7" fill="#000"/>
<path d="M1142.40 723.10V881.05" fill="none" stroke="#444" stroke-width="1.5"/>
<path d="M1141.65 881.05H1377.85" fill="none" stroke="#222" stroke-width="1.5"/>
<path d="M1137.80 881.05H1142.80" stroke="#222" stroke-width="1.3"/>
<g transform="translate(1135.60 885.95) scale(1 1.07)"><text text-anchor="end" class="tk">0</text></g>
<path d="M1137.80 850.94H1142.80" stroke="#222" stroke-width="1.3"/>
<g transform="translate(1135.60 855.84) scale(1 1.07)"><text text-anchor="end" class="tk">20</text></g>
<path d="M1137.80 820.83H1142.80" stroke="#222" stroke-width="1.3"/>
<g transform="translate(1135.60 825.73) scale(1 1.07)"><text text-anchor="end" class="tk">40</text></g>
<path d="M1137.80 790.72H1142.80" stroke="#222" stroke-width="1.3"/>
<g transform="translate(1135.60 795.62) scale(1 1.07)"><text text-anchor="end" class="tk">60</text></g>
<path d="M1137.80 760.61H1142.80" stroke="#222" stroke-width="1.3"/>
<g transform="translate(1135.60 765.51) scale(1 1.07)"><text text-anchor="end" class="tk">80</text></g>
<path d="M1137.80 730.50H1142.80" stroke="#222" stroke-width="1.3"/>
<g transform="translate(1135.60 735.40) scale(1 1.07)"><text text-anchor="end" class="tk">100</text><rect x="-29.39" y="-2.80" width="4.54" height="3.84" fill="#fff"/><rect x="-22.44" y="-2.80" width="3.26" height="3.84" fill="#fff"/></g>
<path d="M1142.40 881.05V886.25" stroke="#222" stroke-width="1.3"/>
<g transform="translate(1142.10 903.95) scale(1 1.07)"><text text-anchor="middle" class="tk">0</text></g>
<path d="M1201.08 881.05V886.25" stroke="#222" stroke-width="1.3"/>
<g transform="translate(1200.78 903.95) scale(1 1.07)"><text text-anchor="middle" class="tk">30</text></g>
<path d="M1259.75 881.05V886.25" stroke="#222" stroke-width="1.3"/>
<g transform="translate(1259.45 903.95) scale(1 1.07)"><text text-anchor="middle" class="tk">60</text></g>
<path d="M1318.42 881.05V886.25" stroke="#222" stroke-width="1.3"/>
<g transform="translate(1318.12 903.95) scale(1 1.07)"><text text-anchor="middle" class="tk">90</text></g>
<path d="M1377.10 881.05V886.25" stroke="#222" stroke-width="1.3"/>
<g transform="translate(1376.80 903.95) scale(1 1.07)"><text text-anchor="middle" class="tk">120</text><rect x="-14.95" y="-2.80" width="4.54" height="3.84" fill="#fff"/><rect x="-8.01" y="-2.80" width="3.26" height="3.84" fill="#fff"/></g>
<text transform="translate(1259.40 701.90) scale(1 1.075)" text-anchor="middle" class="tt" fill="#0bbd0b" xml:space="preserve">Iron</text>
<polyline points="1142.40,881.05 1201.08,746.31 1259.75,738.03 1377.10,731.25" fill="none" stroke="#4040ff" stroke-width="1.35" stroke-linejoin="round"/>
<path d="M1201.08 741.79V750.82M1197.67 741.79H1204.48M1197.67 750.82H1204.48" stroke="#4040ff" stroke-width="1.2" fill="none"/>
<path d="M1259.75 730.50V745.55M1256.35 730.50H1263.15M1256.35 745.55H1263.15" stroke="#4040ff" stroke-width="1.2" fill="none"/>
<path d="M1142.40 877.05L1146.15 884.75H1138.65Z" fill="#0000ff"/>
<path d="M1201.08 742.31L1204.83 750.01H1197.33Z" fill="#0000ff"/>
<path d="M1259.75 734.03L1263.50 741.73H1256.00Z" fill="#0000ff"/>
<path d="M1377.10 727.25L1380.85 734.95H1373.35Z" fill="#0000ff"/>
<polyline points="1142.40,881.05 1201.08,878.04 1259.75,878.04 1377.10,877.29" fill="none" stroke="#ff2020" stroke-width="1.35" stroke-linejoin="round"/>
<rect x="1138.60" y="877.25" width="7.6" height="7.6" fill="#ff0000"/>
<rect x="1197.28" y="874.24" width="7.6" height="7.6" fill="#ff0000"/>
<rect x="1255.95" y="874.24" width="7.6" height="7.6" fill="#ff0000"/>
<rect x="1373.30" y="873.49" width="7.6" height="7.6" fill="#ff0000"/>
<polyline points="1142.40,881.05 1201.08,876.53 1259.75,875.03 1377.10,874.28" fill="none" stroke="#555" stroke-width="1.35" stroke-linejoin="round"/>
<circle cx="1142.40" cy="881.05" r="3.7" fill="#000"/>
<circle cx="1201.08" cy="876.53" r="3.7" fill="#000"/>
<circle cx="1259.75" cy="875.03" r="3.7" fill="#000"/>
<circle cx="1377.10" cy="874.28" r="3.7" fill="#000"/>
<path d="M617.5 289.1H635" stroke="#111" stroke-width="1.3"/>
<circle cx="626.20" cy="289.10" r="3.6" fill="#000"/>
<text x="643.2" y="296.1" class="lg">H<tspan class="sub" dy="5.7">2</tspan><tspan dy="-5.7">O RT</tspan></text>
<path d="M617.5 317.1H635" stroke="#ff2020" stroke-width="1.3"/>
<rect x="622.50" y="313.40" width="7.4" height="7.4" fill="#ff0000"/>
<text x="643.2" y="325.5" class="lg">H<tspan class="sub" dy="5.7">2</tspan><tspan dy="-5.7">O 100</tspan><tspan dx="9.8">C</tspan></text>
<circle cx="748.2" cy="313.3" r="3.3" fill="none" stroke="#111" stroke-width="1.25"/>
<rect x="699.99" y="322.00" width="6.51" height="5.06" fill="#fff"/><rect x="708.86" y="322.00" width="5.17" height="5.06" fill="#fff"/>
<path d="M617.5 345.7H635" stroke="#4040ff" stroke-width="1.3"/>
<path d="M626.20 341.50L630.00 348.50H622.40Z" fill="#0000ff"/>
<text x="643.2" y="354.4" class="lg">SGF 37<tspan dx="9.8">C</tspan></text>
<circle cx="737.4" cy="342.4" r="3.3" fill="none" stroke="#111" stroke-width="1.25"/>
<text x="708.6" y="948.6" class="ax" textLength="192" lengthAdjust="spacingAndGlyphs">Time [min]</text>
<text transform="translate(168.5 872.3) rotate(-90) scale(0.9 1)" class="ax">%</text>
<text transform="translate(168.5 830.2) rotate(-90) scale(1.002 1)" class="ax">Cumulative</text>
<text transform="translate(168.5 617.9) rotate(-90) scale(0.93 1)" class="ax">Release</text>
</svg>
</div></body></html>
